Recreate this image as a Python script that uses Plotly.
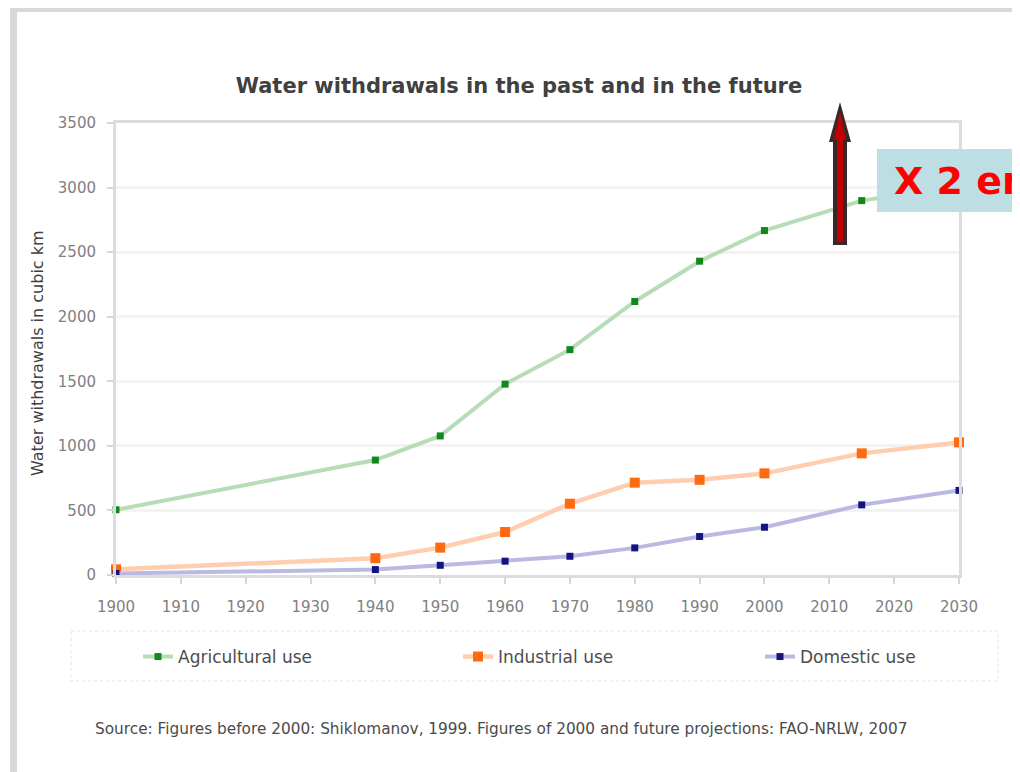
import plotly.graph_objects as go

# ---- data ----
years = [1900, 1940, 1950, 1960, 1970, 1980, 1990, 2000, 2015, 2030]
agricultural = [505, 890, 1077, 1478, 1745, 2118, 2430, 2667, 2899, 3010]
industrial = [44, 130, 212, 333, 552, 715, 737, 787, 942, 1027]
domestic = [12, 42, 75, 107, 145, 210, 298, 370, 543, 655]
series_names = ["Agricultural use", "Industrial use", "Domestic use"]
x_ticks = list(range(1900, 2031, 10))
y_ticks = list(range(0, 3501, 500))

title_text = "Water withdrawals in the past and in the future"
y_title = "Water withdrawals in cubic km"
source_text = ("Source: Figures before 2000: Shiklomanov, 1999. Figures of 2000 and "
               "future projections: FAO-NRLW, 2007")
callout_text = "X 2 en"

# ---- layout geometry (page pixels; the page body has an 8px margin) ----
OFF = 8
WIDTH, HEIGHT = 1020 - OFF, 772 - OFF
L, R, T, B = 116, 959, 123, 575   # plot area in page pixels
PW, PH = R - L, B - T


def px(xp):
    return (xp - L) / PW


def py(yp):
    return (B - yp) / PH


FONT = "DejaVu Sans"

fig = go.Figure()

styles = [
    dict(line=dict(color="#b7dcb7", width=4), marker=dict(color="#11881a", size=7, symbol="square")),
    dict(line=dict(color="#ffcdb0", width=4.5), marker=dict(color="#ff6a10", size=10, symbol="square")),
    dict(line=dict(color="#b9b9e2", width=4), marker=dict(color="#14147e", size=7, symbol="square")),
]
values = [agricultural, industrial, domestic]
legends = ["legend", "legend2", "legend3"]

for name, vals, st, lg in zip(series_names, values, styles, legends):
    fig.add_trace(go.Scatter(
        x=years, y=vals, name=name, mode="lines+markers",
        line=st["line"], marker=st["marker"], cliponaxis=False,
        legend=lg,
    ))

axis_common = dict(
    showline=True, linecolor="#dcdcdc", linewidth=3, mirror=True,
    ticks="outside", ticklen=6, tickwidth=2, tickcolor="#d6d6d6",
    tickfont=dict(family=FONT, size=15, color="#808080"),
    zeroline=False,
)

fig.update_xaxes(
    range=[1900, 2030], tickvals=x_ticks, ticktext=[str(t) for t in x_ticks],
    showgrid=False, ticklabelstandoff=10, **axis_common,
)
fig.update_yaxes(
    range=[0, 3500], tickvals=y_ticks, ticktext=[str(t) for t in y_ticks],
    showgrid=True, gridcolor="#f3f3f3", gridwidth=3, ticklabelstandoff=8,
    **axis_common,
)

legend_common = dict(
    orientation="h", bgcolor="rgba(0,0,0,0)", borderwidth=0,
    font=dict(family=FONT, size=17, color="#4d4d4d"),
    xanchor="left", yanchor="middle", y=py(657),
)

fig.update_layout(
    width=WIDTH, height=HEIGHT,
    margin=dict(l=L - OFF, r=WIDTH - (R - OFF), t=T - OFF, b=HEIGHT - (B - OFF), autoexpand=False),
    paper_bgcolor="white", plot_bgcolor="white",
    showlegend=True,
    title=dict(text=title_text, font=dict(family=FONT, size=21, color="#404040", weight="bold"),
               x=px(519), xref="paper", xanchor="center",
               y=1 - (86 - OFF) / HEIGHT, yref="container", yanchor="middle"),
    legend=dict(x=px(158 - 20), **legend_common),
    legend2=dict(x=px(478 - 20), **legend_common),
    legend3=dict(x=px(780 - 20), **legend_common),
)

shapes = []
# slide frame (gray bars top and left)
shapes.append(dict(type="rect", xref="paper", yref="paper",
                   x0=px(10), x1=px(1030), y0=py(2), y1=py(12),
                   fillcolor="#d9d9d9", line=dict(width=0), layer="below"))
shapes.append(dict(type="rect", xref="paper", yref="paper",
                   x0=px(10), x1=px(17), y0=py(2), y1=py(780),
                   fillcolor="#d9d9d9", line=dict(width=0), layer="below"))
# legend box
shapes.append(dict(type="rect", xref="paper", yref="paper",
                   x0=px(71), x1=px(998), y0=py(631), y1=py(681),
                   line=dict(color="#ececec", width=1.5, dash="dot"), layer="below"))


def path(points):
    return "M " + " L ".join(f"{px(a)},{py(b)}" for a, b in points) + " Z"


# arrow (outline then red core)
shapes.append(dict(type="path", xref="paper", yref="paper",
                   path=path([(833, 245), (833, 142), (829, 142), (840, 102),
                              (851, 142), (847, 142), (847, 245)]),
                   fillcolor="#3a2828", line=dict(width=0), layer="above"))
shapes.append(dict(type="path", xref="paper", yref="paper",
                   path=path([(837, 242), (837, 139), (834, 139), (840, 112),
                              (846, 139), (843, 139), (843, 242)]),
                   fillcolor="#c00000", line=dict(width=0), layer="above"))
# callout box
shapes.append(dict(type="rect", xref="paper", yref="paper",
                   x0=px(877), x1=px(1040), y0=py(149), y1=py(212),
                   fillcolor="#bddfe3", line=dict(width=0), layer="above"))
fig.update_layout(shapes=shapes)

annotations = [
    dict(text=y_title, xref="paper", yref="paper", x=px(37), y=py(353),
         textangle=-90, showarrow=False, xanchor="center", yanchor="middle",
         font=dict(family=FONT, size=16, color="#404040")),
    dict(text=source_text, xref="paper", yref="paper", x=px(93), y=py(729),
         showarrow=False, xanchor="left", yanchor="middle",
         font=dict(family=FONT, size=15.3, color="#4a4a4a")),
    dict(text=callout_text, xref="paper", yref="paper", x=px(892), y=py(181),
         showarrow=False, xanchor="left", yanchor="middle",
         font=dict(family=FONT, size=38, color="#ff0000", weight="bold")),
]
fig.update_layout(annotations=annotations)

fig.write_html("out.html")
